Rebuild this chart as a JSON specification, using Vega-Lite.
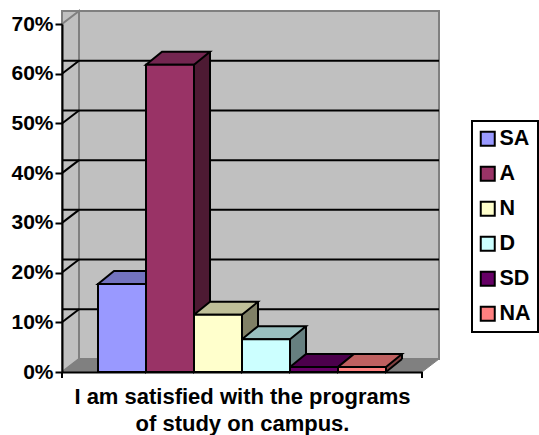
{
"$schema":"https://vega.github.io/schema/vega-lite/v6.json",
"width":360,"height":348,
"autosize":{"type":"none"},
"padding":{"left":62,"top":24,"right":117,"bottom":63},
"background":"white",
"config":{"view":{"stroke":null},"font":"Liberation Sans","legend":{"strokeWidth":2}},
"datasets":{
"bars":[{"series":"SA","value":0.177},{"series":"A","value":0.618},{"series":"N","value":0.115},{"series":"D","value":0.066},{"series":"SD","value":0.01},{"series":"NA","value":0.01}],
"ticks":[{"tick":0.1},{"tick":0.2},{"tick":0.3},{"tick":0.4},{"tick":0.5},{"tick":0.6}],
"one":[{"part":"wall"}]
},
"data":{"name":"bars"},
"layer":[
{"data":{"name":"one"},"mark":{"type":"rect","xOffset":17,"x2Offset":17,"yOffset":-13,"y2Offset":-13,"fill":"#C0C0C0","stroke":"#808080","strokeWidth":2},
 "encoding":{"y":{"datum":0,"type":"quantitative","scale":{"domain":[0,0.7],"nice":false}},"y2":{"datum":0.7}}},
{"data":{"name":"one"},"mark":{"type":"point","shape":"M-36,0L-19,-13L-19,-361L-36,-348Z","size":4,"filled":true,"fill":"#C0C0C0","stroke":"#808080","strokeWidth":2,"opacity":1},
 "encoding":{"x":{"datum":"SA","type":"nominal","bandPosition":0},"y":{"datum":0,"type":"quantitative"}}},
{"data":{"name":"one"},"mark":{"type":"point","shape":"M-36,0L-19,-13L341,-13L324,0Z","size":4,"filled":true,"fill":"#808080","stroke":"#808080","strokeWidth":1,"opacity":1},
 "encoding":{"x":{"datum":"SA","type":"nominal","bandPosition":0},"y":{"datum":0,"type":"quantitative"}}},
{"data":{"name":"ticks"},"mark":{"type":"rule","xOffset":17,"yOffset":-13,"color":"black","strokeWidth":2},
 "encoding":{"y":{"field":"tick","type":"quantitative"}}},
{"data":{"name":"ticks"},"mark":{"type":"point","shape":"M-36,0L-19,-13","size":4,"filled":false,"stroke":"black","strokeWidth":2,"opacity":1},
 "encoding":{"x":{"datum":"SA","type":"nominal","bandPosition":0},"y":{"field":"tick","type":"quantitative"}}},
{"mark":{"type":"rect","xOffset":16,"x2Offset":16,"yOffset":-13,"y2Offset":-13},
 "encoding":{"x":{"field":"series","type":"nominal"},"y":{"field":"value","type":"quantitative","stack":null},"y2":{"datum":0},
  "fill":{"field":"series","type":"nominal","legend":null,"scale":{"domain":["SA","A","N","D","SD","NA"],"range":["#4D4D80","#4D1A33","#808066","#668080","#330033","#804040"]}}}},
{"mark":{"type":"point","shape":"M0,-13L0,0L16,-13","size":4,"filled":true,"stroke":"black","strokeWidth":2,"opacity":1},
 "encoding":{"x":{"field":"series","type":"nominal","bandPosition":1},"y":{"datum":0,"type":"quantitative"},
  "fill":{"field":"series","type":"nominal","legend":null,"scale":{"domain":["SA","A","N","D","SD","NA"],"range":["#4D4D80","#4D1A33","#808066","#668080","#330033","#804040"]}}}},
{"mark":{"type":"rule","xOffset":16,"yOffset":-13,"y2Offset":-13,"color":"black","strokeWidth":2},
 "encoding":{"x":{"field":"series","type":"nominal","bandPosition":1},"y":{"field":"value","type":"quantitative","stack":null},"y2":{"datum":0}}},
{"mark":{"type":"point","shape":"M0,0L16,-13L64,-13L48,0Z","size":4,"filled":true,"stroke":"black","strokeWidth":2,"opacity":1},
 "encoding":{"x":{"field":"series","type":"nominal","bandPosition":0},"y":{"field":"value","type":"quantitative","stack":null},
  "fill":{"field":"series","type":"nominal","legend":null,"scale":{"domain":["SA","A","N","D","SD","NA"],"range":["#7373BF","#732650","#BFBF99","#99BFBF","#4C004C","#BF6060"]}}}},
{"mark":{"type":"bar","stroke":"black","strokeWidth":2,"strokeJoin":"miter"},
 "encoding":{
  "x":{"field":"series","type":"nominal","sort":["SA","A","N","D","SD","NA"],
   "scale":{"domain":["SA","A","N","D","SD","NA"],"paddingInner":0,"paddingOuter":0.75},
   "axis":{"title":["I am satisfied with the programs","of study on campus."],"labels":false,"ticks":false,"domainColor":"black","domainWidth":2,"titleFont":"Liberation Sans","titleFontWeight":"bold","titleFontSize":22,"titleLineHeight":27,"titleColor":"black","titlePadding":14,"zindex":1}},
  "y":{"field":"value","type":"quantitative","stack":null,"scale":{"domain":[0,0.7],"nice":false},
   "axis":{"title":null,"values":[0,0.1,0.2,0.3,0.4,0.5,0.6,0.7],"format":".0%","grid":false,"domainColor":"black","domainWidth":2,"tickColor":"black","tickWidth":2,"tickSize":7,"labelFont":"Liberation Sans","labelFontWeight":"bold","labelFontSize":21,"labelColor":"black","labelPadding":2,"zindex":1}},
  "fill":{"field":"series","type":"nominal","scale":{"domain":["SA","A","N","D","SD","NA"],"range":["#9999FF","#993366","#FFFFCC","#CCFFFF","#660066","#FF8080"]},
   "legend":{"title":null,"orient":"none","legendX":410,"legendY":97,"symbolType":"square","symbolSize":196,"symbolOffset":-2,"symbolStrokeWidth":2,"symbolStrokeColor":"black","labelFont":"Liberation Sans","labelFontWeight":"bold","labelFontSize":21.5,"labelColor":"black","labelOffset":9,"rowPadding":12,"padding":7,"strokeColor":"black","encode":{"labels":{"update":{"dx":{"value":-8}}}}}}
 }},
{"data":{"name":"one"},"mark":{"type":"point","shape":"M-36,0L-36,6","size":4,"filled":false,"stroke":"black","strokeWidth":2,"opacity":1},
 "encoding":{"x":{"datum":"SA","type":"nominal","bandPosition":0},"y":{"datum":0,"type":"quantitative"}}},
{"data":{"name":"one"},"mark":{"type":"point","shape":"M36,0L36,6","size":4,"filled":false,"stroke":"black","strokeWidth":2,"opacity":1},
 "encoding":{"x":{"datum":"NA","type":"nominal","bandPosition":1},"y":{"datum":0,"type":"quantitative"}}}
],
"resolve":{"scale":{"fill":"independent"}}
}
